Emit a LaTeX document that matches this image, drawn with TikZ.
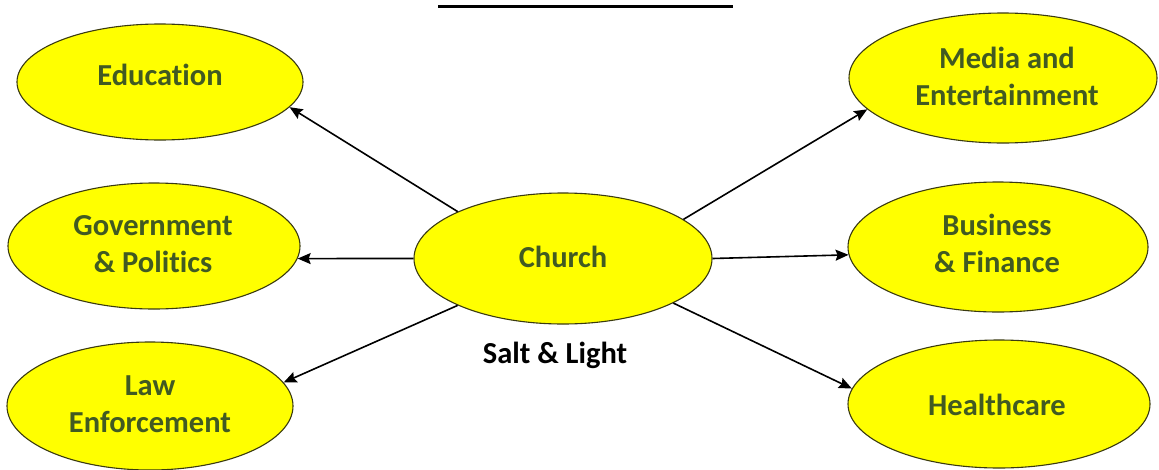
\documentclass[tikz,border=0pt]{standalone}
\usepackage{fontspec}
\setmainfont{Carlito}[Ligatures={NoCommon}]
\usetikzlibrary{shapes.geometric,arrows.meta}
\definecolor{ovalfill}{HTML}{FFFF00}
\definecolor{ovaldraw}{HTML}{3A3A10}
\definecolor{txtgreen}{HTML}{415A22}
\newcommand\twolines[1]{\begin{tabular}[t]{@{}c@{}}#1\end{tabular}}
\tikzset{
  oval/.style={ellipse, draw=ovaldraw, fill=ovalfill, line width=1.1pt, inner sep=0pt},
  lbl/.style={anchor=base, inner sep=0pt, text=txtgreen, font=\fontsize{30.5}{37}\selectfont\bfseries},
  arr/.style={draw=black, line width=1.6pt, -{Stealth[length=13pt,width=11pt,inset=2pt]}}
}
\begin{document}
\begin{tikzpicture}[x=1pt,y=-1pt]
\useasboundingbox (0,0) rectangle (1159,469);
\fill[white] (0,0) rectangle (1159,469);
% title underline (title text is cut off above the picture)
\coordinate (ul1) at (438,6);
\coordinate (ul2) at (733,6);
\draw[line width=3pt] (ul1) -- (ul2);
% ovals
\node[oval, minimum width=286pt, minimum height=116pt] (edu) at (160,82) {};
\node[oval, minimum width=292pt, minimum height=126pt] (gov) at (154,246) {};
\node[oval, minimum width=286pt, minimum height=128pt] (law) at (150,406) {};
\node[oval, minimum width=298pt, minimum height=131pt] (church) at (563,258.5) {};
\node[oval, minimum width=308pt, minimum height=130pt] (media) at (1003,78) {};
\node[oval, minimum width=300pt, minimum height=130pt] (biz) at (998,247) {};
\node[oval, minimum width=302pt, minimum height=128pt] (hc) at (999,404) {};
% labels
\node[lbl] (edut) at (160,85) {Education};
\node[lbl] (govt) at (153,235) {\twolines{Government\\\& Politics}};
\node[lbl] (lawt) at (150,395) {\twolines{Law\\Enforcement}};
\node[lbl] (churcht) at (563,267) {Church};
\node[lbl] (mediat) at (1007,68) {\twolines{Media and\\Entertainment}};
\node[lbl] (bizt) at (997,235) {\twolines{Business\\\& Finance}};
\node[lbl] (hct) at (997,415) {Healthcare};
\node[lbl, text=black] (salt) at (555,363) {Salt \& Light};
% arrows
\draw[arr] (church.156) -- (edu.-11);
\draw[arr] (church.180) -- (gov.-5);
\draw[arr] (church.204.5) -- (law.10);
\draw[arr] (church.18.4) -- (media.193.7);
\draw[arr] (church.0) -- (biz.183.4);
\draw[arr] (church.-22) -- (hc.174.7);
\end{tikzpicture}
\end{document}
